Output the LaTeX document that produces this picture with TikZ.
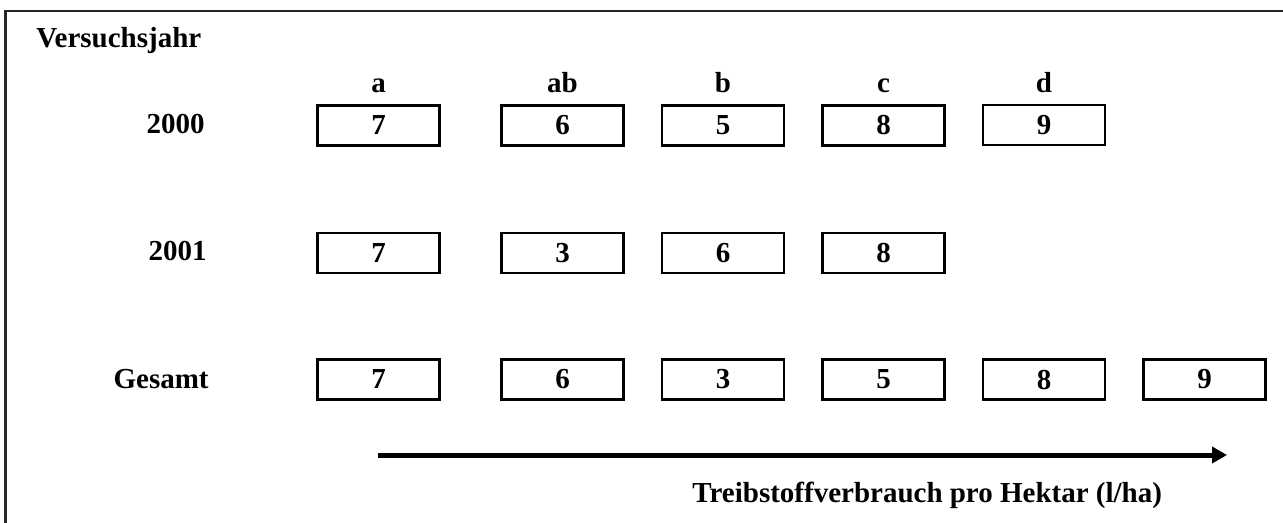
\documentclass[tikz,border=0pt]{standalone}
\usepackage{fontspec}
\setmainfont{Liberation Serif}
\usetikzlibrary{positioning,arrows.meta}

\tikzset{
    valbox/.style={draw, line width=1.4pt, outer sep=0pt, inner sep=0pt,
        minimum width=61pt, minimum height=20pt},
    grplbl/.style={inner sep=0pt, outer sep=0pt},
    rowlbl/.style={inner sep=0pt, anchor=base east},
    axisarrow/.style={line width=2.5pt, -{Triangle[length=7.5pt,width=8pt]}},
    rahmen/.style={draw=black!85, line width=1.1pt},
}

\begin{document}
\begin{tikzpicture}[x=0.5pt, y=-0.5pt, node distance=19.25pt,
    font=\fontsize{14.5}{17}\selectfont\bfseries]
    \clip (0,0) rectangle (1283,523);
    \draw[rahmen] (5.5,11) rectangle (1300,540);

    \node [anchor=base west, inner sep=0pt] (vj) at (36,48) {Versuchsjahr};

    % 2000
    \node [rowlbl] (j2000) at (205,134) {2000};
    \node [valbox] (a2000) at (378.5,125.5) {7};
    \node [valbox, right=of a2000, xshift=11.75pt] (b2000) {6};
    \node [valbox, right=of b2000] (c2000) {5};
    \node [valbox, right=of c2000] (d2000) {8};
    \node [valbox, right=of d2000, line width=1pt] (e2000) {9};
    \node [grplbl, above=6.5pt of a2000] (ga) {a};
    \node [grplbl, above=6.5pt of b2000] (gab) {ab};
    \node [grplbl, above=6.5pt of c2000] (gb) {b};
    \node [grplbl, above=6.5pt of d2000] (gc) {c};
    \node [grplbl, above=6.5pt of e2000] (gd) {d};

    % 2001
    \node [rowlbl] (j2001) at (207,261) {2001};
    \node [valbox] (a2001) at (378.5,253) {7};
    \node [valbox, right=of a2001, xshift=11.75pt] (b2001) {3};
    \node [valbox, right=of b2001] (c2001) {6};
    \node [valbox, right=of c2001] (d2001) {8};

    % Gesamt
    \node [rowlbl] (jges) at (209,388) {Gesamt};
    \node [valbox] (ages) at (378.5,379.5) {7};
    \node [valbox, right=of ages, xshift=11.75pt] (bges) {6};
    \node [valbox, right=of bges] (cges) {3};
    \node [valbox, right=of cges] (dges) {5};
    \node [valbox, right=of dges] (eges) {8};
    \node [valbox, right=of eges] (fges) {9};

    \coordinate (pfeilA) at (378,455);
    \coordinate (pfeilB) at (1227,455);
    \draw[axisarrow] (pfeilA) -- (pfeilB);
    \node [anchor=base west, inner sep=0pt] (achse) at (692,502)
        {Treibstoffverbrauch pro Hektar (l/ha)};
\end{tikzpicture}
\end{document}
